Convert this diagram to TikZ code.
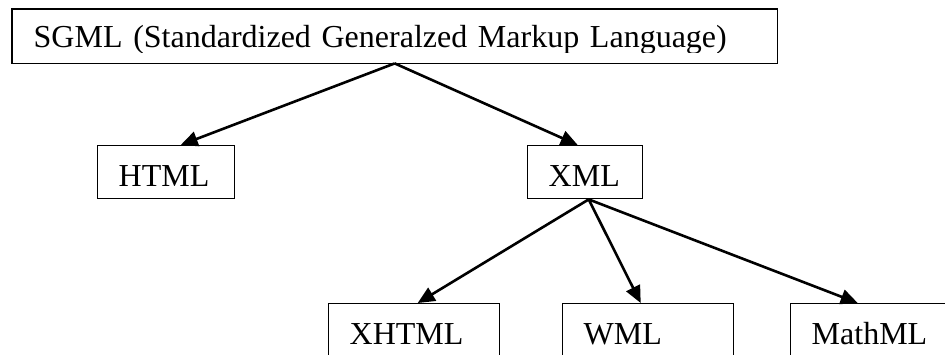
\documentclass[tikz,border=0pt]{standalone}
\usepackage{fontspec}
\setmainfont{Liberation Serif}
\usetikzlibrary{arrows.meta,positioning,calc}

\begin{document}
\begin{tikzpicture}[x=0.5pt,y=-0.5pt,
  boxline/.style={line width=0.7pt},
  tbox/.style={draw,boxline,anchor=north west,inner xsep=10.5pt,inner ysep=0pt,
    text height=20.5pt,text depth=6pt,align=left,
    font=\fontsize{16pt}{19pt}\selectfont},
  link/.style={line width=1.3pt,-{Triangle[length=8.5pt,width=7.5pt]}}]

  % page
  \useasboundingbox (0,0) rectangle (945,354);
  \clip (0,0) rectangle (945,354);

  % top box, text cut at the inner margin
  \begin{scope}
    \clip (12,9) rectangle (776,52);
    \node[tbox,draw=none,text width=361pt,text height=19pt,text depth=7.5pt]
      (sgml) at (12,9) {SGML (Standardized Generalzed Markup Language)};
  \end{scope}
  \draw[boxline] (sgml.north west) rectangle (sgml.south east);

  % second row
  \node[tbox,text width=47.5pt] (html) at (97,145) {HTML};
  \node[tbox,text width=36.5pt] (xml) at (527,145) {XML};

  % third row
  \node[tbox,text width=64.5pt] (xhtml) at (328,303) {XHTML};
  \node[tbox,text width=64.5pt] (wml) at (562,303) {WML};
  \node[tbox,text width=64.5pt] (mathml) at (790,303) {MathML};

  % arrows
  \draw[link] (sgml.south) -- ([xshift=7.25pt]html.north);
  \draw[link] (sgml.south) -- ([xshift=-3.75pt]xml.north);
  \draw[link] ([xshift=1.75pt]xml.south) -- ([xshift=1.75pt]xhtml.north);
  \draw[link] ([xshift=1.75pt]xml.south) -- ([xshift=-3.75pt]wml.north);
  \draw[link] ([xshift=1.75pt]xml.south) -- ([xshift=-9.25pt]mathml.north);

\end{tikzpicture}
\end{document}
